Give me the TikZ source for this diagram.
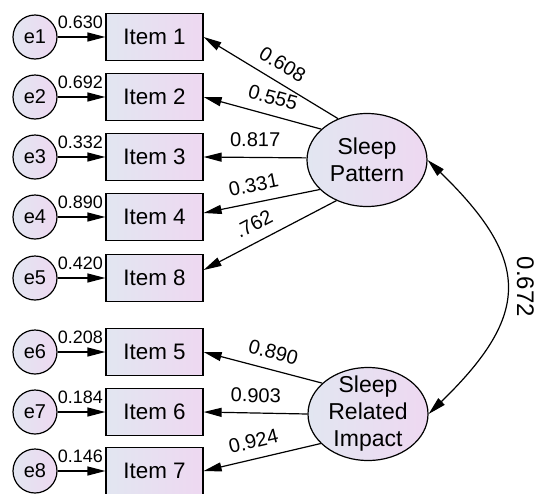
\documentclass[tikz,border=0pt]{standalone}
\usepackage{fontspec}
\setmainfont{Liberation Sans}
\usetikzlibrary{arrows.meta,shapes.geometric}
\definecolor{fondg}{RGB}{226,230,241}
\definecolor{fondd}{RGB}{238,216,241}
\begin{document}
\begin{tikzpicture}[x=0.5pt,y=-0.5pt,line width=0.6pt,
    >={Triangle[length=9pt,width=4.5pt]},
    item/.style={draw,left color=fondg,right color=fondd,minimum width=48.5pt,minimum height=23.5pt,inner sep=0pt,font=\fontsize{11.2}{13}\selectfont},
    err/.style={draw,circle,left color=fondg,right color=fondd,minimum size=22pt,inner sep=0pt,font=\fontsize{10}{12}\selectfont},
    lat/.style={draw,ellipse,left color=fondg,right color=fondd,minimum width=60pt,minimum height=46.5pt,inner xsep=0pt,inner ysep=-3pt,align=center,font=\fontsize{11.5}{13.5}\selectfont},
    var/.style={anchor=north east,inner sep=1pt,font=\fontsize{9}{10}\selectfont},
    poids/.style={sloped,anchor=south,inner sep=5pt,font=\fontsize{10}{12}\selectfont}]
    \useasboundingbox (0,0) rectangle (535,493);
    \clip (0,0) rectangle (535,493);
    % erreurs et items
    \foreach \n/\t/\y/\v in {1/1/37/0.630,2/2/97/0.692,3/3/157/0.332,4/4/217/0.890,5/8/278/0.420,6/5/352/0.208,7/6/412/0.184,8/7/471/0.146}{
        \node[err] (e\n) at (35,\y) {e\n};
        \node[item] (it\t) at (154.5,\y) {Item \t};
        \node[var] (v\n) at (it\t.north west) {\v};
        \draw[->] (e\n) -- (it\t);
    }
    % facteurs
    \node[lat] (sp) at (367,160) {Sleep\\Pattern};
    \node[lat] (sri) at (368,414) {Sleep\\Related\\Impact};
    \draw[->] (sp.125) -- node[poids,pos=0.48] (l1) {0.608} (it1.east);
    \draw[->] (sp.146) -- node[poids,pos=0.45] (l2) {0.555} (it2.east);
    \draw[->] (sp.178) -- node[poids,pos=0.5] (l3) {0.817} (it3.east);
    \draw[->] (sp.212) -- node[poids,pos=0.54] (l4) {0.331} ([yshift=2pt]it4.east);
    \draw[->] (sp.233) -- node[poids,pos=0.56] (l8) {.762} ([yshift=4pt]it8.east);
    \draw[->] (sri.146) -- node[poids,pos=0.45] (l5) {0.890} (it5.east);
    \draw[->] (sri.180) -- node[poids,pos=0.5] (l6) {0.903} (it6.east);
    \draw[->] (sri.212) -- node[poids,pos=0.54] (l7) {0.924} (it7.east);
    % covariance
    \draw[<->] (sp.east) .. controls +(103,100) and +(103,-100) .. node[pos=0.5,rotate=-90,anchor=south,inner sep=5.5pt,font=\fontsize{12}{14}\selectfont] (cov) {0.672} (sri.east);
\end{tikzpicture}
\end{document}
